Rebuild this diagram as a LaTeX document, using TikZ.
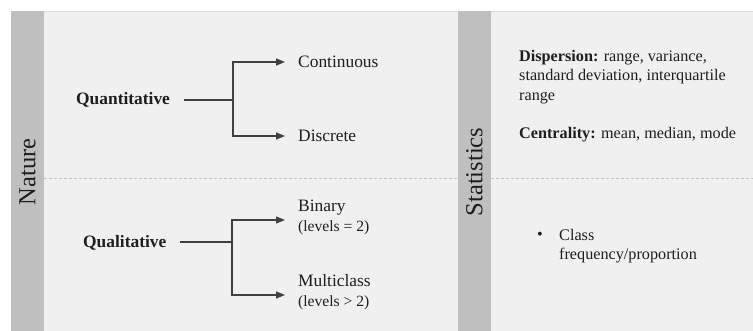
\documentclass[tikz,border=0pt]{standalone}
\usepackage{fontspec}
\setmainfont{Liberation Serif}
\usetikzlibrary{arrows.meta}
\definecolor{panelbg}{HTML}{F0F0F0}
\definecolor{panelrule}{HTML}{DCDCDC}
\definecolor{barfill}{HTML}{BFBFBF}
\definecolor{inkcol}{HTML}{1E1E1E}
\definecolor{linecol}{HTML}{404040}
\definecolor{dashcol}{HTML}{C4C4C4}
\begin{document}
\begin{tikzpicture}[x=1pt,y=-1pt,
  lbl/.style={anchor=west, inner sep=0pt, text=inkcol, align=left,
              font=\fontsize{17.4}{21}\selectfont},
  head/.style={lbl, font=\bfseries\fontsize{17.4}{21}\selectfont},
  stat/.style={anchor=west, inner sep=0pt, text=inkcol, align=left,
               font=\fontsize{16.2}{19.5}\selectfont},
  side/.style={rotate=90, inner sep=0pt, text=inkcol,
               font=\fontsize{24.5}{28}\selectfont},
  conn/.style={draw=linecol, line width=1.3pt},
  arr/.style={conn, -{Triangle[length=9pt,width=7pt]}},
  sep/.style={draw=dashcol, line width=0.8pt, dash pattern=on 3pt off 2pt}]

  \useasboundingbox (0,0) rectangle (753,331);

  % panel and side bars
  \fill[panelbg] (11,11) rectangle (753,331);
  \draw[panelrule, line width=0.8pt] (11,11) -- (753,11);
  \fill[barfill] (11,11) rectangle (44,331);
  \fill[barfill] (458,11) rectangle (491,331);

  % row separators
  \draw[sep] (44,178) -- (458,178);
  \draw[sep] (491,178) -- (753,178);

  % side titles
  \node[side] (nature) at (27.5,172) {Nature};
  \node[side] (stats) at (474.5,172) {Statistics};

  % quantitative branch
  \node[head] (quant) at (76,100) {Quantitative};
  \node[lbl] (cont) at (298,62) {Continuous};
  \node[lbl] (disc) at (298,136) {Discrete};
  \coordinate (qj) at (233,100);
  \draw[conn] ([xshift=14pt]quant.east |- qj) -- (qj);
  \draw[arr] (qj) |- ([xshift=-13pt]cont.west);
  \draw[arr] (qj) |- ([xshift=-13pt]disc.west);

  % qualitative branch
  \node[head] (qual) at (83,243) {Qualitative};
  \node[lbl] (bin) at (298,217) {Binary\\[-1pt]{\fontsize{15.6}{20}\selectfont(levels = 2)}};
  \node[lbl] (multi) at (298,292) {Multiclass\\[-1pt]{\fontsize{15.6}{20}\selectfont(levels > 2)}};
  \coordinate (lj) at (232,242);
  \draw[conn] ([xshift=13pt]qual.east |- lj) -- (lj);
  \draw[arr] (lj) |- ([xshift=-13pt,yshift=-3pt]bin.west);
  \draw[arr] (lj) |- ([xshift=-13pt,yshift=-3pt]multi.west);

  % statistics column
  \node[stat] (disp) at (519,77) {\textbf{Dispersion:} range, variance,\\
    standard deviation, interquartile\\ range};
  \node[stat] (cent) at (519,135) {\textbf{Centrality:} mean, median, mode};
  \node[stat] (dot) at (537,236) {\textbullet};
  \node[stat] (cls) at (559,246) {Class\\ frequency/proportion};
\end{tikzpicture}
\end{document}
